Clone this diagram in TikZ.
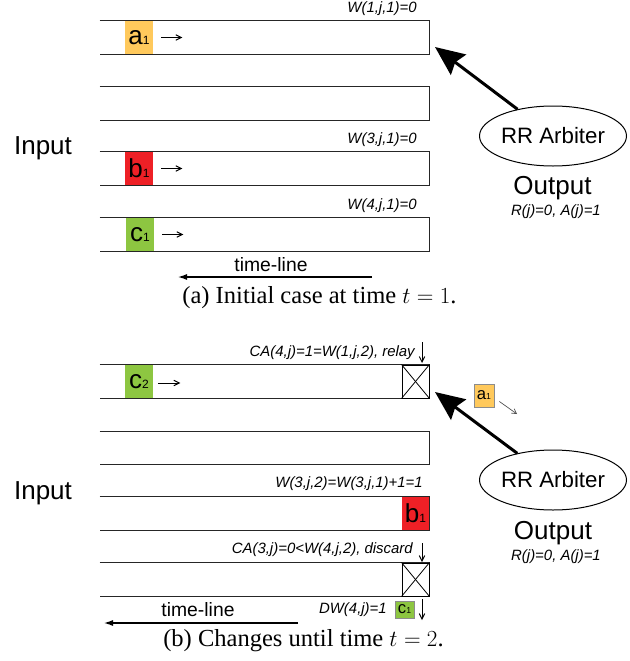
\documentclass[tikz,border=0pt]{standalone}
\usepackage{fontspec}
\setmainfont{Liberation Sans}
\newfontfamily\capfont{Liberation Serif}
\usetikzlibrary{shapes.geometric,arrows.meta,calc}
\definecolor{itemyellow}{HTML}{FFC95C}
\definecolor{itemred}{HTML}{EE2026}
\definecolor{itemgreen}{HTML}{8DC641}
\newcommand\pxu{0.75pt}
% packet label: big letter with a small index on the baseline
\newcommand\itm[2]{#1{\fontsize{9}{9}\selectfont #2}}
\newcommand\sitm[2]{#1{\fontsize{6.5}{6.5}\selectfont #2}}
\begin{document}
\begin{tikzpicture}[x=0.75pt,y=-0.75pt,
  queue/.style={minimum width=329*\pxu, minimum height=33*\pxu, inner sep=0},
  qline/.style={line width=0.9pt, draw=black!85},
  item/.style={minimum width=28*\pxu, minimum height=33*\pxu, inner sep=0,
    font=\fontsize{19.5}{19.5}\selectfont},
  smallitem/.style={draw=black!45, line width=0.6pt, inner sep=0,
    font=\fontsize{12.5}{12.5}\selectfont},
  xbox/.style={draw, line width=0.75pt, minimum width=27*\pxu, minimum height=33*\pxu, inner sep=0},
  lab/.style={font=\itshape\fontsize{11.2}{13}\selectfont, inner sep=0, anchor=east},
  bigtext/.style={font=\fontsize{19.5}{22}\selectfont, inner sep=0},
  arb/.style={ellipse, draw, line width=0.75pt, minimum width=147*\pxu, minimum height=60*\pxu,
    inner sep=0, font=\fontsize{16.7}{18}\selectfont},
  bigarrow/.style={line width=2.25pt, -{Stealth[length=22pt,width=19pt,inset=3pt]}},
  timearrow/.style={line width=1.5pt, -{Latex[length=7.5pt,width=4.5pt]}},
  tltext/.style={font=\fontsize{14.5}{16}\selectfont, inner sep=0},
  smallarrow/.style={line width=0.75pt, -{Straight Barb[length=4pt,width=4pt]}},
  caption/.style={font=\capfont\fontsize{18.4}{20}\selectfont, inner sep=0}]
\useasboundingbox (0,0) rectangle (629,661);

% ---------- (a) initial case ----------
\node[queue] (qa1) at (264.5,37.5) {};
\node[queue] (qa2) at (264.5,103.5) {};
\node[queue] (qa3) at (264.5,168.5) {};
\node[queue] (qa4) at (264.5,234.5) {};
\foreach \q in {qa1,qa2,qa3,qa4}
  \draw[qline] (\q.north west) -- (\q.north east) -- (\q.south east) -- (\q.south west);

\node[item, fill=itemyellow] (pa1) at (139,37.5) {\itm{a}{1}};
\node[item, fill=itemred] (pb1) at (139,168.5) {\itm{b}{1}};
\node[item, fill=itemgreen] (pc1) at (140,234.5) {\itm{c}{1}};
\foreach \p in {pa1,pb1,pc1}
  \draw[smallarrow] ($(\p.east)+(8,0)$) -- ($(\p.east)+(29,0)$);

\node[lab] (wa1) at (417,9) {W(1,j,1)=0};
\node[lab] (wa3) at (417,140) {W(3,j,1)=0};
\node[lab] (wa4) at (417,206) {W(4,j,1)=0};

\node[bigtext] (ina) at (43,148) {Input};
\node[arb] (arba) at (553,136) {RR Arbiter};
\node[bigtext] (outa) at (552.5,188) {Output};
\node[lab, anchor=center] (rja) at (556,212) {R(j)=0, A(j)=1};
\coordinate (tipa) at (435,47);
\draw[bigarrow] (arba) -- (tipa);

\node[tltext] (tla) at (271,265) {time-line};
\coordinate (tlas) at (372,277);
\coordinate (tlae) at (177,277);
\draw[timearrow] (tlas) -- (tlae);
\node[caption] (capa) at (319.5,298) {(a) Initial case at time $t=1$.};

% ---------- (b) changes until t = 2 ----------
\node[queue] (qb1) at (264.5,381.5) {};
\node[queue] (qb2) at (264.5,448) {};
\node[queue] (qb3) at (264.5,513.5) {};
\node[queue] (qb4) at (264.5,579.5) {};
\foreach \q in {qb1,qb2,qb3,qb4}
  \draw[qline] (\q.north west) -- (\q.north east) -- (\q.south east) -- (\q.south west);

\node[item, fill=itemgreen] (pc2) at (139,381.5) {\itm{c}{2}};
\draw[smallarrow] ($(pc2.east)+(5,1.5)$) -- ($(pc2.east)+(27,1.5)$);
\node[item, fill=itemred, minimum width=27*\pxu] (pb1b) at (415.5,513.5) {\itm{b}{1}};

\node[xbox] (xb1) at (415.5,381.5) {};
\draw[line width=0.6pt] (xb1.north west) -- (xb1.south east) (xb1.north east) -- (xb1.south west);
\node[xbox] (xb4) at (415.5,579.5) {};
\draw[line width=0.6pt] (xb4.north west) -- (xb4.south east) (xb4.north east) -- (xb4.south west);

\node[lab] (cab4) at (415,353) {CA(4,j)=1=W(1,j,2), relay};
\coordinate (d1s) at (422,342);
\coordinate (d1e) at (422,363);
\draw[smallarrow] (d1s) -- (d1e);

\node[lab] (wb3) at (423,484) {W(3,j,2)=W(3,j,1)+1=1};
\node[lab] (cab3) at (413,550) {CA(3,j)=0<W(4,j,2), discard};
\coordinate (d2s) at (422,543);
\coordinate (d2e) at (422,562);
\draw[smallarrow] (d2s) -- (d2e);

\node[lab] (dwb4) at (387,610) {DW(4,j)=1};
\node[smallitem, fill=itemgreen, minimum width=19*\pxu, minimum height=17*\pxu] (sc1) at (404.5,609.5) {\sitm{c}{1}};
\coordinate (d3s) at (422,599);
\coordinate (d3e) at (422,620);
\draw[smallarrow] (d3s) -- (d3e);

\node[smallitem, fill=itemyellow, minimum width=20*\pxu, minimum height=23*\pxu] (sa1) at (484,395.5) {\sitm{a}{1}};
\coordinate (sae) at (517,414);
\draw[line width=0.5pt, draw=black!70, -{Straight Barb[length=3.5pt,width=4pt]}] ($(sa1.east)+(5,6)$) -- (sae);

\node[bigtext] (inb) at (43,493) {Input};
\node[arb] (arbb) at (553,480) {RR Arbiter};
\node[bigtext] (outb) at (553,533) {Output};
\node[lab, anchor=center] (rjb) at (556,557) {R(j)=0, A(j)=1};
\coordinate (tipb) at (435,392);
\draw[bigarrow] (arbb) -- (tipb);

\node[tltext] (tlb) at (198,610) {time-line};
\coordinate (tlbs) at (298,623);
\coordinate (tlbe) at (103,623);
\draw[timearrow] (tlbs) -- (tlbe);
\node[caption] (capb) at (303.5,641) {(b) Changes until time $t=2$.};
\end{tikzpicture}
\end{document}
